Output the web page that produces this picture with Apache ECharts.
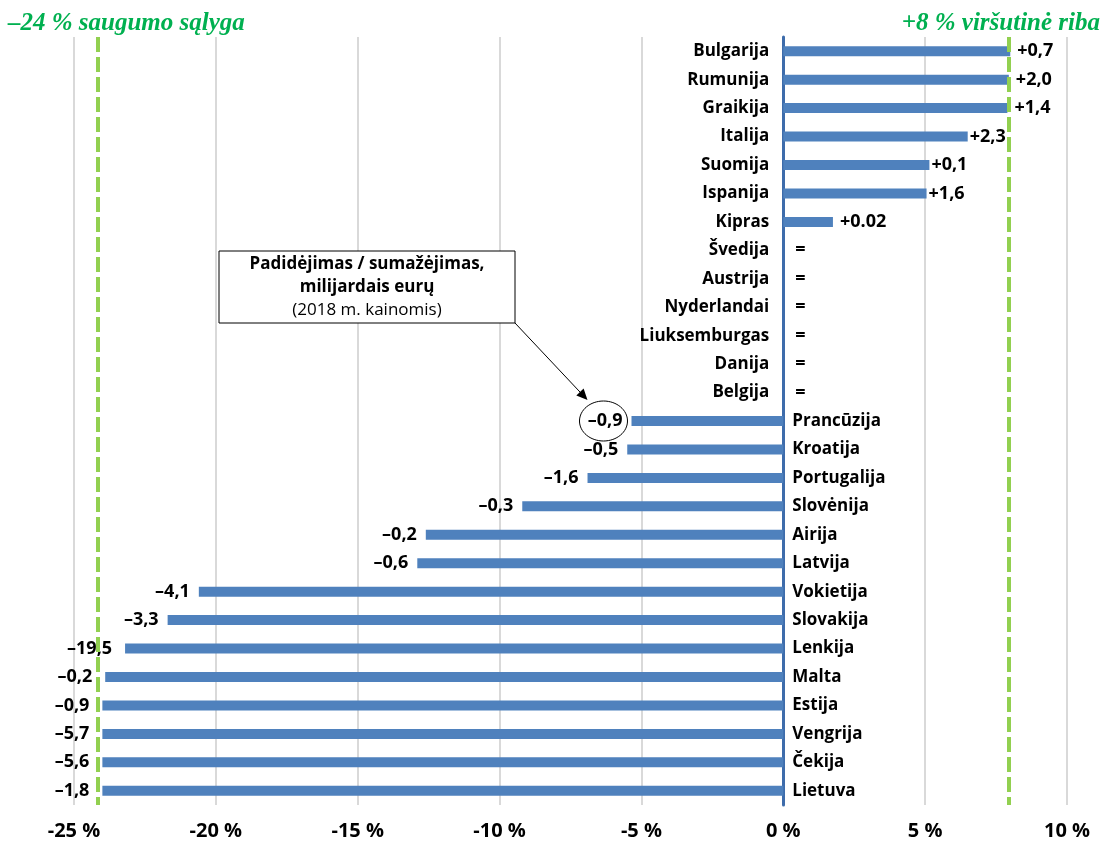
<!DOCTYPE html>
<html>
<head>
<meta charset="utf-8">
<script src="https://cdn.jsdelivr.net/npm/echarts@6/dist/echarts.min.js"></script>
<style>html,body{margin:0;padding:0;background:#fff}#c{width:1104px;height:843px}</style>
</head>
<body>
<div id="c"></div>
<script>
const categories = ['Bulgarija','Rumunija','Graikija','Italija','Suomija','Ispanija','Kipras','Švedija','Austrija','Nyderlandai','Liuksemburgas','Danija','Belgija','Prancūzija','Kroatija','Portugalija','Slovėnija','Airija','Latvija','Vokietija','Slovakija','Lenkija','Malta','Estija','Vengrija','Čekija','Lietuva'];
const changePct = [8.0, 7.95, 7.9, 6.5, 5.15, 5.05, 1.75, 0, 0, 0, 0, 0, 0, -5.35, -5.5, -6.9, -9.2, -12.6, -12.9, -20.6, -21.7, -23.2, -23.9, -24.0, -24.0, -24.0, -24.0];
const valueLabels = ['+0,7','+2,0','+1,4','+2,3','+0,1','+1,6','+0.02','=','=','=','=','=','=','–0,9','–0,5','–1,6','–0,3','–0,2','–0,6','–4,1','–3,3','–19,5','–0,2','–0,9','–5,7','–5,6','–1,8'];
// reference lines as drawn in the picture (labelled -24 % and +8 %)
const lowerLimit = -24.15;
const upperLimit = 7.93;
const xTicks = {min: -25, max: 10, interval: 5};

const FONT = '"Open Sans", Lato, sans-serif';
const chart = echarts.init(document.getElementById('c'));

const mainData = changePct.map((v, i) => {
  let pos, dist;
  if (v > 0) { pos = 'right'; dist = (i < 3 || i === 6) ? 7 : 2; }
  else if (v < 0) { pos = 'left'; dist = (i >= 21) ? 13 : 9; }
  else { pos = 'right'; dist = 12; }
  return { value: v, label: { position: pos, distance: dist } };
});
const nameData = changePct.map(v => ({
  value: 0,
  label: { position: v < 0 ? 'right' : 'left', distance: v < 0 ? 9 : 14 }
}));

chart.setOption({
  animation: false,
  grid: { left: 74, right: 37, top: 37, bottom: 38, containLabel: false },
  xAxis: {
    type: 'value', min: xTicks.min, max: xTicks.max, interval: xTicks.interval,
    axisLine: { show: false }, axisTick: { show: false },
    splitLine: { lineStyle: { color: '#d9d9d9', width: 2 } },
    axisLabel: { formatter: v => v + ' %', fontFamily: FONT, fontWeight: 'bold', fontSize: 20, color: '#000', margin: 16 }
  },
  yAxis: {
    type: 'category', data: categories, inverse: true,
    axisLine: { onZero: true, lineStyle: { color: '#3e6cab', width: 3 } },
    axisTick: { show: false }, axisLabel: { show: false }, splitLine: { show: false }
  },
  series: [
    {
      type: 'bar', data: mainData, barWidth: 10, z: 2,
      itemStyle: { color: '#4f81bd' },
      label: { show: true, formatter: p => valueLabels[p.dataIndex], fontFamily: FONT, fontWeight: 'bold', fontSize: 18, color: '#000' },
      markLine: {
        silent: true, symbol: 'none', label: { show: false },
        lineStyle: { color: '#92d050', width: 4, type: [15, 5] },
        data: [{ xAxis: lowerLimit }, { xAxis: upperLimit }]
      }
    },
    {
      type: 'bar', data: nameData, barWidth: 10, barGap: '-100%', z: 1,
      itemStyle: { color: 'transparent' },
      label: { show: true, formatter: p => categories[p.dataIndex], fontFamily: FONT, fontWeight: 'bold', fontSize: 17, color: '#000' }
    }
  ]
});

// annotation: circle around France's value label, with arrow from the note box
const fi = categories.indexOf('Prancūzija');
const fp = chart.convertToPixel({ seriesIndex: 0 }, [changePct[fi], fi]);
const cx = fp[0] - 9 - 19, cy = fp[1];
const bx = 219, by = 251, bw = 296, bh = 72;
const ax = by + bh;
const ex = cx - 16, ey = cy - 21;
const ang = Math.atan2(ey - ax, ex - (bx + bw));
const ah = 11, aw = 5;
const tip = [ex, ey];
const b1 = [ex - ah * Math.cos(ang) + aw * Math.sin(ang), ey - ah * Math.sin(ang) - aw * Math.cos(ang)];
const b2 = [ex - ah * Math.cos(ang) - aw * Math.sin(ang), ey - ah * Math.sin(ang) + aw * Math.cos(ang)];

chart.setOption({
  graphic: [
    { type: 'text', left: 8, top: 11, style: { text: '–24 % saugumo sąlyga', font: 'italic bold 25px "Liberation Serif", serif', fill: '#00b050' } },
    { type: 'text', right: 4, top: 11, style: { text: '+8 % viršutinė riba', font: 'italic bold 25px "Liberation Serif", serif', fill: '#00b050' } },
    { type: 'rect', shape: { x: bx, y: by, width: bw, height: bh }, style: { fill: '#fff', stroke: '#000', lineWidth: 1 }, z: 10 },
    { type: 'text', x: bx + bw / 2, y: by + 13, z: 11, style: { text: 'Padidėjimas / sumažėjimas,', font: 'bold 17px ' + FONT, fill: '#000', align: 'center', verticalAlign: 'middle' } },
    { type: 'text', x: bx + bw / 2, y: by + 36, z: 11, style: { text: 'milijardais eurų', font: 'bold 17px ' + FONT, fill: '#000', align: 'center', verticalAlign: 'middle' } },
    { type: 'text', x: bx + bw / 2, y: by + 59, z: 11, style: { text: '(2018 m. kainomis)', font: '17px ' + FONT, fill: '#000', align: 'center', verticalAlign: 'middle' } },
    { type: 'line', z: 10, shape: { x1: bx + bw, y1: ax, x2: ex - 8 * Math.cos(ang), y2: ey - 8 * Math.sin(ang) }, style: { stroke: '#000', lineWidth: 1 } },
    { type: 'polygon', z: 10, shape: { points: [tip, b1, b2] }, style: { fill: '#000' } },
    { type: 'ellipse', z: 10, shape: { cx: cx, cy: cy, rx: 24, ry: 20 }, style: { fill: 'none', stroke: '#000', lineWidth: 1 } }
  ]
});
</script>
</body>
</html>
